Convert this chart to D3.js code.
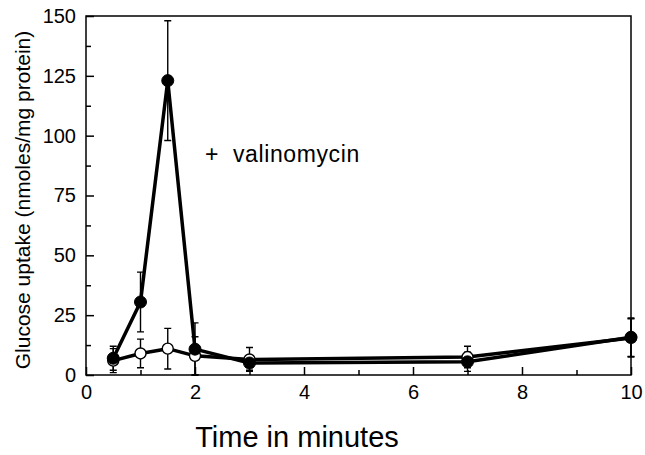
<!DOCTYPE html>
<html>
<head>
<meta charset="utf-8">
<script src="https://cdn.jsdelivr.net/npm/d3@7"></script>
<style>
    body { margin: 0; background: #fff; }
    text { font-family: 'Liberation Sans', Arial, sans-serif; fill: #000; }
</style>
</head>
<body>
<div id="chart"></div>
<script>
// data
var times = [0.5, 1, 1.5, 2, 3, 7, 10];
var valinomycin = [7, 30.5, 123, 10.8, 5, 5.5, 15.8];
var valinomycinErr = [5, 12.5, 25, 11, 3, 4, 8];
var control = [6, 9, 11, 8, 6.5, 7.5, 15.5];
var controlErr = [5, 6, 8.5, 8, 5, 4.5, 8];

var xTicks = [0, 2, 4, 6, 8, 10];
var xMinorTicks = [1, 3, 5, 7, 9];
var yTicks = [0, 25, 50, 75, 100, 125, 150];
var yMinorTicks = [12.5, 37.5, 62.5, 87.5, 112.5, 137.5];

var width = 645;
var height = 455;
var margins = { top: 16, right: 14, bottom: 80, left: 86 };
var innerWidth = width - margins.left - margins.right;
var innerHeight = height - margins.top - margins.bottom;

var svg = d3.select('#chart')
    .append('svg')
    .attr('width', width)
    .attr('height', height);

var g = svg.append('g')
    .attr('transform', 'translate(' + margins.left + ',' + margins.top + ')');

var x = d3.scaleLinear().domain([0, 10]).range([0, innerWidth]);
var y = d3.scaleLinear().domain([0, 150]).range([innerHeight, 0]);

// frame
g.append('rect')
    .attr('x', 0)
    .attr('y', 0)
    .attr('width', innerWidth)
    .attr('height', innerHeight)
    .style('fill', 'none')
    .style('stroke', '#000')
    .style('stroke-width', 1.5);

// axes, ticks pointing inward
var xAxis = g.append('g')
    .attr('transform', 'translate(0,' + innerHeight + ')')
    .call(d3.axisBottom(x).tickValues(xTicks).tickSizeInner(-8).tickSizeOuter(0).tickPadding(10));
xAxis.append('g')
    .call(d3.axisBottom(x).tickValues(xMinorTicks).tickSizeInner(-5).tickSizeOuter(0).tickFormat(''));

var yAxis = g.append('g')
    .call(d3.axisLeft(y).tickValues(yTicks).tickSizeInner(-8).tickSizeOuter(0).tickPadding(10));
yAxis.append('g')
    .call(d3.axisLeft(y).tickValues(yMinorTicks).tickSizeInner(-5).tickSizeOuter(0).tickFormat(''));

g.selectAll('.domain').remove();
g.selectAll('.tick line').style('stroke', '#000').style('stroke-width', 1.5);
g.selectAll('.tick text').style('font-size', '20px').style('fill', '#000');
xAxis.selectAll('.tick text').attr('y', 10);

// axis titles
svg.append('text')
    .attr('transform', 'translate(30,200) rotate(-90)')
    .attr('text-anchor', 'middle')
    .style('font-size', '21px')
    .text('Glucose uptake (nmoles/mg protein)');

svg.append('text')
    .attr('x', 297)
    .attr('y', 447)
    .attr('text-anchor', 'middle')
    .style('font-size', '29px')
    .text('Time in minutes');

svg.append('text')
    .attr('x', 205)
    .attr('y', 162)
    .style('font-size', '23px')
    .style('letter-spacing', '0.6px')
    .style('white-space', 'pre')
    .text('+  valinomycin');

// series
var series = [
    { values: control, errs: controlErr, filled: false },
    { values: valinomycin, errs: valinomycinErr, filled: true }
];

var line = d3.line()
    .x(function(d) { return x(d.t); })
    .y(function(d) { return y(d.v); });

series.forEach(function(s) {
    s.points = times.map(function(t, i) {
        return { t: t, v: s.values[i], e: s.errs[i] };
    });
});

// lines
g.selectAll('.series-line')
    .data(series)
    .enter()
    .append('path')
    .attr('class', 'series-line')
    .attr('d', function(s) { return line(s.points); })
    .style('fill', 'none')
    .style('stroke', '#000')
    .style('stroke-width', 3.5)
    .style('stroke-linejoin', 'round');

// error bars
series.forEach(function(s) {
    var cap = 3.5;
    g.append('g')
        .attr('class', 'err')
        .selectAll('path')
        .data(s.points)
        .enter()
        .append('path')
        .attr('d', function(d) {
            var cx = x(d.t), y1 = y(d.v + d.e), y0 = y(Math.max(0, d.v - d.e));
            return 'M' + cx + ',' + y1 + 'V' + y0 +
                'M' + (cx - cap) + ',' + y1 + 'H' + (cx + cap) +
                'M' + (cx - cap) + ',' + y0 + 'H' + (cx + cap);
        })
        .style('fill', 'none')
        .style('stroke', '#000')
        .style('stroke-width', 1.4);
});

// markers: open circles first, filled on top
series.forEach(function(s) {
    g.append('g')
        .selectAll('circle')
        .data(s.points)
        .enter()
        .append('circle')
        .attr('cx', function(d) { return x(d.t); })
        .attr('cy', function(d) { return y(d.v); })
        .attr('r', s.filled ? 6 : 5.5)
        .style('fill', s.filled ? '#000' : '#fff')
        .style('stroke', '#000')
        .style('stroke-width', s.filled ? 1 : 1.4);
});
</script>
</body>
</html>
